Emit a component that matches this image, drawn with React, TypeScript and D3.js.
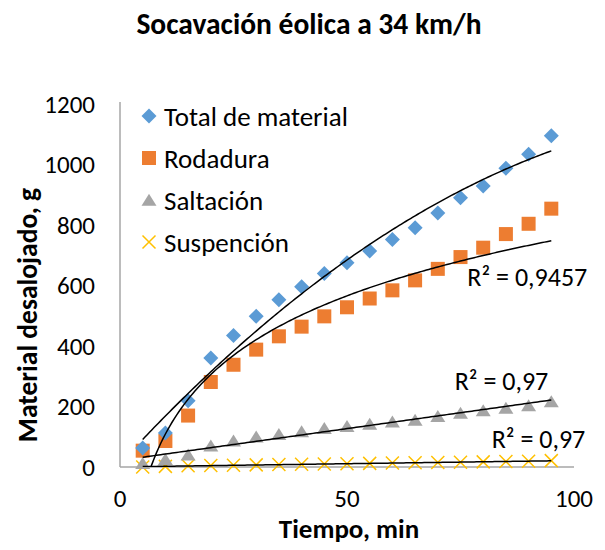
import * as d3 from "d3";

const W = 605;
const H = 550;
const FONT = "Calibri, Carlito, Lato, sans-serif";

// tiempo (min)
const minutes = [5, 10, 15, 20, 25, 30, 35, 40, 45, 50, 55, 60, 65, 70, 75, 80, 85, 90, 95];
const total = [63, 112, 219, 360, 435, 498, 553, 596, 640, 675, 714, 752, 791, 840, 890, 929, 988, 1034, 1095];
const rodadura = [54, 86, 170, 281, 338, 388, 432, 464, 498, 528, 557, 584, 617, 655, 694, 725, 770, 804, 854];
const saltacion = [12, 25, 40, 70, 86, 100, 108, 117, 128, 134, 142, 149, 155, 167, 178, 186, 195, 203, 216];
const suspension = [0, 2, 4, 5, 6, 7, 8, 9, 10, 11, 12, 13, 14, 15, 16, 17, 18, 19, 21];

const seriesNames = ["Total de material", "Rodadura", "Saltación", "Suspención"];
const xTicks = [0, 50, 100];
const yTicks = [0, 200, 400, 600, 800, 1000, 1200];
const r2Labels = ["R² = 0,9457", "R² = 0,97", "R² = 0,97"];

// least squares fits, like excel trendlines
const linearFit = (xs: number[], ys: number[]) => {
  const mx = d3.mean(xs)!;
  const my = d3.mean(ys)!;
  const b = d3.sum(xs, (x, i) => (x - mx) * (ys[i] - my)) / d3.sum(xs, (x) => (x - mx) ** 2);
  const a = my - b * mx;
  return (x: number) => a + b * x;
};

const logFit = (xs: number[], ys: number[]) => {
  const f = linearFit(xs.map(Math.log), ys);
  return (x: number) => f(Math.log(x));
};

const poly2Fit = (xs: number[], ys: number[]) => {
  const s = (p: number) => d3.sum(xs, (x) => x ** p);
  const t = (p: number) => d3.sum(xs, (x, i) => x ** p * ys[i]);
  const m = [
    [xs.length, s(1), s(2)],
    [s(1), s(2), s(3)],
    [s(2), s(3), s(4)],
  ];
  const v = [t(0), t(1), t(2)];
  const det = (a: number[][]) =>
    a[0][0] * (a[1][1] * a[2][2] - a[1][2] * a[2][1]) -
    a[0][1] * (a[1][0] * a[2][2] - a[1][2] * a[2][0]) +
    a[0][2] * (a[1][0] * a[2][1] - a[1][1] * a[2][0]);
  const d = det(m);
  const c = [0, 1, 2].map((k) => det(m.map((row, i) => row.map((val, j) => (j === k ? v[i] : val)))) / d);
  return (x: number) => c[0] + c[1] * x + c[2] * x * x;
};

const fitTotal = poly2Fit(minutes, total);
const fitRod = logFit(minutes, rodadura);
const fitSal = linearFit(minutes, saltacion);
const fitSus = linearFit(minutes, suspension);

const BLUE = "#5b9bd5";
const ORANGE = "#ed7d31";
const GRAY = "#a5a5a5";
const YELLOW = "#ffc000";

const diamond = (x: number, y: number, r: number) => `M${x},${y - r}L${x + r},${y}L${x},${y + r}L${x - r},${y}Z`;
const triangle = (x: number, y: number, r: number) => `M${x},${y - r * 0.85}L${x + r},${y + r * 0.75}L${x - r},${y + r * 0.75}Z`;
const cross = (x: number, y: number, r: number) => `M${x - r},${y - r}L${x + r},${y + r}M${x - r},${y + r}L${x + r},${y - r}`;

export default function App() {
  const x = d3.scaleLinear().domain([0, 100]).range([120, 574]);
  const y = d3.scaleLinear().domain([0, 1200]).range([467, 104]);

  const samples = d3.range(5, 95.001, 0.5);
  const line = (f: (v: number) => number) =>
    d3.line<number>().x((d) => x(d)).y((d) => y(f(d)))(samples) ?? "";

  const legendY = [116, 158, 200, 242];
  const lastX = minutes[minutes.length - 1];

  return (
    <svg width={W} height={H} style={{ position: "absolute", left: 0, top: 0, background: "#fff" }} fontFamily={FONT}>
      <defs>
        <clipPath id="plot">
          <rect x={x(0)} y={y(1200) - 2} width={x(100) - x(0)} height={y(0) - y(1200) + 2} />
        </clipPath>
      </defs>

      <text x={309} y={34} textAnchor="middle" fontSize={29.5} fontWeight="bold" fill="#000">
        Socavación éolica a 34 km/h
      </text>

      {/* axes */}
      <line x1={x(0)} x2={x(0)} y1={y(1200) - 2} y2={y(0)} stroke="#a6a6a6" strokeWidth={1.5} />
      <line x1={x(0)} x2={x(100)} y1={y(0)} y2={y(0)} stroke="#a6a6a6" strokeWidth={1.5} />
      {yTicks.map((t) => (
        <text key={t} x={95} y={y(t)} textAnchor="end" dominantBaseline="central" fontSize={25} fill="#000">
          {t}
        </text>
      ))}
      {xTicks.map((t) => (
        <text key={t} x={x(t)} y={498} textAnchor="middle" dominantBaseline="central" fontSize={25} fill="#000">
          {t}
        </text>
      ))}
      <text x={349} y={528} textAnchor="middle" dominantBaseline="central" fontSize={27} fontWeight="bold">
        Tiempo, min
      </text>
      <text
        transform={`translate(27,315) rotate(-90)`}
        textAnchor="middle"
        dominantBaseline="central"
        fontSize={27.5}
        fontWeight="bold"
      >
        Material desalojado, g
      </text>

      {/* points */}
      <g>
        {minutes.map((m, i) => (
          <path key={"su" + m} d={cross(x(m), y(suspension[i]), 6.5)} stroke={YELLOW} strokeWidth={1.5} fill="none" />
        ))}
        {minutes.map((m, i) => (
          <path key={"sa" + m} d={triangle(x(m), y(saltacion[i]), 7.5)} fill={GRAY} />
        ))}
        {minutes.map((m, i) => (
          <rect key={"ro" + m} x={x(m) - 7} y={y(rodadura[i]) - 7} width={14} height={14} fill={ORANGE} />
        ))}
        {minutes.map((m, i) => (
          <path key={"to" + m} d={diamond(x(m), y(total[i]), 7.5)} fill={BLUE} />
        ))}
      </g>

      {/* trendlines */}
      <g clipPath="url(#plot)" fill="none" stroke="#000" strokeWidth={1.5}>
        <path d={line(fitTotal)} />
        <path d={line(fitRod)} />
        <path d={line(fitSal)} />
        <path d={line(fitSus)} />
      </g>

      <g fontSize={26} fill="#000">
        <text x={x(lastX) + 36} y={y(fitRod(lastX)) + 45} textAnchor="end">{r2Labels[0]}</text>
        <text x={x(lastX) - 3} y={y(fitSal(lastX)) - 10} textAnchor="end">{r2Labels[1]}</text>
        <text x={x(lastX) + 34} y={y(fitSus(lastX)) - 13} textAnchor="end">{r2Labels[2]}</text>
      </g>

      {/* legend */}
      <g fontSize={27} fill="#000">
        <path d={diamond(149, legendY[0], 7.5)} fill={BLUE} />
        <rect x={142} y={legendY[1] - 7} width={14} height={14} fill={ORANGE} />
        <path d={triangle(149, legendY[2], 7.5)} fill={GRAY} />
        <path d={cross(149, legendY[3], 6.5)} stroke={YELLOW} strokeWidth={1.5} fill="none" />
        {seriesNames.map((n, i) => (
          <text key={n} x={164} y={legendY[i]} dominantBaseline="central">
            {n}
          </text>
        ))}
      </g>
    </svg>
  );
}
